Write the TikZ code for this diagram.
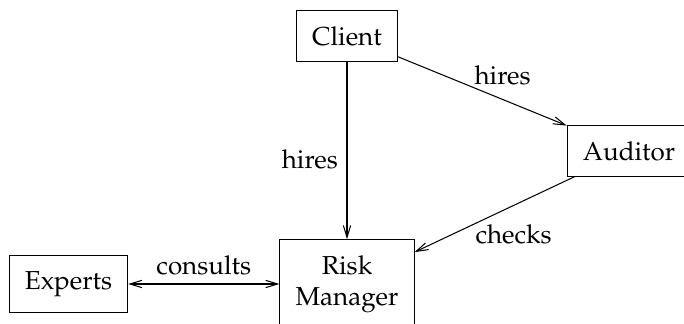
\documentclass[tikz,border=0pt]{standalone}
\usepackage[T1]{fontenc}
\usepackage{mathpazo}
\usepackage{tikz}
\usetikzlibrary{arrows.meta}

\begin{document}
\begin{tikzpicture}[
    x=0.3846pt,y=0.3846pt,box/.style={draw,inner sep=6pt,align=center},
    >={Straight Barb[length=4.6pt,width=2.8pt]}
    ]
    \clip (0, 0) rectangle (684, 324);
    \node[box] (client) at (347, 288) {Client};
    \node[box] (auditor) at (629, 173) {Auditor};
    \node[box] (rm) at (347, 40) {Risk\\Manager};
    \node[box] (experts) at (68.5, 40) {Experts};
    \draw[->] (client) -- node[left, pos=0.55] {hires} (rm);
    \draw[->] (client) -- node[above=2pt, pos=0.62] {hires} (auditor);
    \draw[->] (auditor) -- node[below=4pt, pos=0.38] {checks} (rm);
    \draw[<->] (experts) -- node[above] {consults} (rm);
  \end{tikzpicture}
\end{document}
